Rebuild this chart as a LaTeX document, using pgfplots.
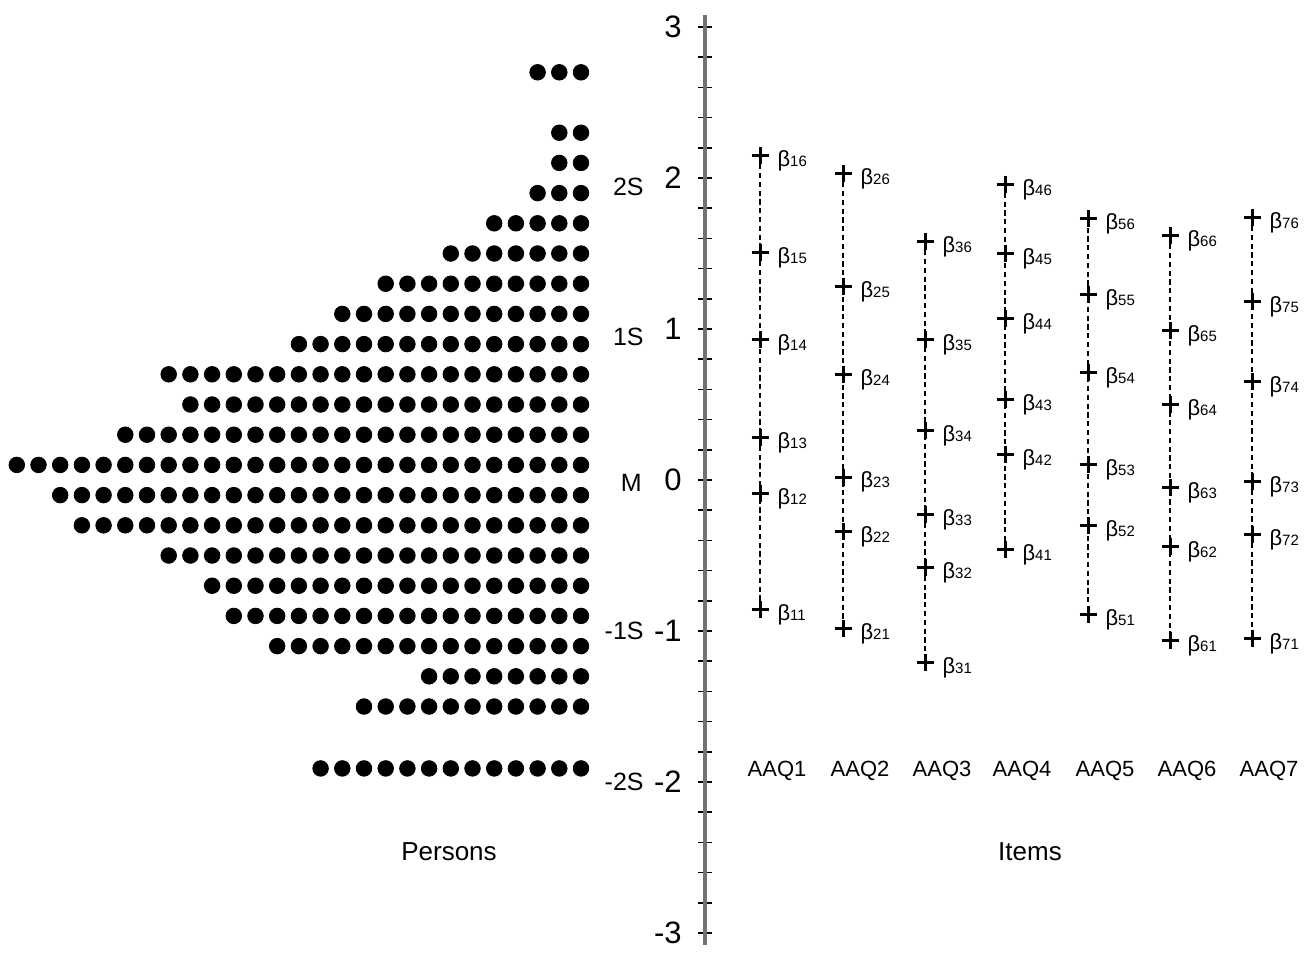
\documentclass[border=0pt]{standalone}
\usepackage{fontspec}
\setmainfont{Liberation Sans}
\usepackage{pgfplots}
\pgfplotsset{compat=1.18}
\begin{document}
\begin{tikzpicture}
\pgfplotsset{
  itemstyle/.style={black, line width=0.55pt, dash pattern=on 2.6pt off 1.8pt,
    mark=+, mark size=4.25pt, mark options={solid, line width=1.5pt},
    point meta=explicit symbolic,
    nodes near coords={β{\fontsize{7.5}{8}\selectfont\pgfplotspointmeta}},
    every node near coord/.style={anchor=base west, inner sep=0pt, xshift=8pt, yshift=-5.5pt,
      font=\fontsize{11}{11}\selectfont, text=black}},
}
\begin{axis}[
  x=0.5pt, y=75.5pt,
  xmin=-705, xmax=606, ymin=-3.08, ymax=3.08,
  axis x line=none, axis y line=center,
  y axis line style={-, draw=black!55, line width=2pt},
  ytick={-3,-2,-1,0,1,2,3},
  yticklabels={-3,-2,-1,0,1,2,3},
  minor y tick num=4,
  tick align=center,
  major tick length=7pt, minor tick length=7pt,
  tick style={black, line width=0.8pt},
  yticklabel style={font=\fontsize{15.5}{15.5}\selectfont, anchor=east, inner sep=0pt, xshift=-8pt},
  clip=false,
]
% persons: (column index from the ruler, logit)
\addplot[only marks, mark=*, mark size=3.9pt, black, x filter/.expression={-124-21.7*(x-1)}] coordinates {
(1,2.7) (2,2.7) (3,2.7)
(1,2.3) (2,2.3)
(1,2.1) (2,2.1)
(1,1.9) (2,1.9) (3,1.9)
(1,1.7) (2,1.7) (3,1.7) (4,1.7) (5,1.7)
(1,1.5) (2,1.5) (3,1.5) (4,1.5) (5,1.5) (6,1.5) (7,1.5)
(1,1.3) (2,1.3) (3,1.3) (4,1.3) (5,1.3) (6,1.3) (7,1.3) (8,1.3) (9,1.3) (10,1.3)
(1,1.1) (2,1.1) (3,1.1) (4,1.1) (5,1.1) (6,1.1) (7,1.1) (8,1.1) (9,1.1) (10,1.1) (11,1.1) (12,1.1)
(1,0.9) (2,0.9) (3,0.9) (4,0.9) (5,0.9) (6,0.9) (7,0.9) (8,0.9) (9,0.9) (10,0.9) (11,0.9) (12,0.9) (13,0.9) (14,0.9)
(1,0.7) (2,0.7) (3,0.7) (4,0.7) (5,0.7) (6,0.7) (7,0.7) (8,0.7) (9,0.7) (10,0.7) (11,0.7) (12,0.7) (13,0.7) (14,0.7) (15,0.7) (16,0.7) (17,0.7) (18,0.7) (19,0.7) (20,0.7)
(1,0.5) (2,0.5) (3,0.5) (4,0.5) (5,0.5) (6,0.5) (7,0.5) (8,0.5) (9,0.5) (10,0.5) (11,0.5) (12,0.5) (13,0.5) (14,0.5) (15,0.5) (16,0.5) (17,0.5) (18,0.5) (19,0.5)
(1,0.3) (2,0.3) (3,0.3) (4,0.3) (5,0.3) (6,0.3) (7,0.3) (8,0.3) (9,0.3) (10,0.3) (11,0.3) (12,0.3) (13,0.3) (14,0.3) (15,0.3) (16,0.3) (17,0.3) (18,0.3) (19,0.3) (20,0.3) (21,0.3) (22,0.3)
(1,0.1) (2,0.1) (3,0.1) (4,0.1) (5,0.1) (6,0.1) (7,0.1) (8,0.1) (9,0.1) (10,0.1) (11,0.1) (12,0.1) (13,0.1) (14,0.1) (15,0.1) (16,0.1) (17,0.1) (18,0.1) (19,0.1) (20,0.1) (21,0.1) (22,0.1) (23,0.1) (24,0.1) (25,0.1) (26,0.1) (27,0.1)
(1,-0.1) (2,-0.1) (3,-0.1) (4,-0.1) (5,-0.1) (6,-0.1) (7,-0.1) (8,-0.1) (9,-0.1) (10,-0.1) (11,-0.1) (12,-0.1) (13,-0.1) (14,-0.1) (15,-0.1) (16,-0.1) (17,-0.1) (18,-0.1) (19,-0.1) (20,-0.1) (21,-0.1) (22,-0.1) (23,-0.1) (24,-0.1) (25,-0.1)
(1,-0.3) (2,-0.3) (3,-0.3) (4,-0.3) (5,-0.3) (6,-0.3) (7,-0.3) (8,-0.3) (9,-0.3) (10,-0.3) (11,-0.3) (12,-0.3) (13,-0.3) (14,-0.3) (15,-0.3) (16,-0.3) (17,-0.3) (18,-0.3) (19,-0.3) (20,-0.3) (21,-0.3) (22,-0.3) (23,-0.3) (24,-0.3)
(1,-0.5) (2,-0.5) (3,-0.5) (4,-0.5) (5,-0.5) (6,-0.5) (7,-0.5) (8,-0.5) (9,-0.5) (10,-0.5) (11,-0.5) (12,-0.5) (13,-0.5) (14,-0.5) (15,-0.5) (16,-0.5) (17,-0.5) (18,-0.5) (19,-0.5) (20,-0.5)
(1,-0.7) (2,-0.7) (3,-0.7) (4,-0.7) (5,-0.7) (6,-0.7) (7,-0.7) (8,-0.7) (9,-0.7) (10,-0.7) (11,-0.7) (12,-0.7) (13,-0.7) (14,-0.7) (15,-0.7) (16,-0.7) (17,-0.7) (18,-0.7)
(1,-0.9) (2,-0.9) (3,-0.9) (4,-0.9) (5,-0.9) (6,-0.9) (7,-0.9) (8,-0.9) (9,-0.9) (10,-0.9) (11,-0.9) (12,-0.9) (13,-0.9) (14,-0.9) (15,-0.9) (16,-0.9) (17,-0.9)
(1,-1.1) (2,-1.1) (3,-1.1) (4,-1.1) (5,-1.1) (6,-1.1) (7,-1.1) (8,-1.1) (9,-1.1) (10,-1.1) (11,-1.1) (12,-1.1) (13,-1.1) (14,-1.1) (15,-1.1)
(1,-1.3) (2,-1.3) (3,-1.3) (4,-1.3) (5,-1.3) (6,-1.3) (7,-1.3) (8,-1.3)
(1,-1.5) (2,-1.5) (3,-1.5) (4,-1.5) (5,-1.5) (6,-1.5) (7,-1.5) (8,-1.5) (9,-1.5) (10,-1.5) (11,-1.5)
(1,-1.91) (2,-1.91) (3,-1.91) (4,-1.91) (5,-1.91) (6,-1.91) (7,-1.91) (8,-1.91) (9,-1.91) (10,-1.91) (11,-1.91) (12,-1.91) (13,-1.91)
};
% items: thresholds
\addplot[itemstyle] coordinates {(55,2.15)[16] (55,1.51)[15] (55,0.93)[14] (55,0.28)[13] (55,-0.09)[12] (55,-0.86)[11]};
\addplot[itemstyle] coordinates {(138,2.03)[26] (138,1.28)[25] (138,0.70)[24] (138,0.02)[23] (138,-0.34)[22] (138,-0.98)[21]};
\addplot[itemstyle] coordinates {(220,1.58)[36] (220,0.93)[35] (220,0.33)[34] (220,-0.23)[33] (220,-0.58)[32] (220,-1.21)[31]};
\addplot[itemstyle] coordinates {(300,1.96)[46] (300,1.50)[45] (300,1.07)[44] (300,0.53)[43] (300,0.17)[42] (300,-0.46)[41]};
\addplot[itemstyle] coordinates {(383,1.73)[56] (383,1.23)[55] (383,0.71)[54] (383,0.10)[53] (383,-0.30)[52] (383,-0.89)[51]};
\addplot[itemstyle] coordinates {(465,1.62)[66] (465,0.99)[65] (465,0.50)[64] (465,-0.05)[63] (465,-0.44)[62] (465,-1.06)[61]};
\addplot[itemstyle] coordinates {(547,1.74)[76] (547,1.18)[75] (547,0.65)[74] (547,-0.01)[73] (547,-0.36)[72] (547,-1.05)[71]};
% texts
\node[font=\fontsize{12.5}{13}\selectfont, anchor=east, inner sep=0pt] at (axis cs:-61,1.94) {2S};
\node[font=\fontsize{12.5}{13}\selectfont, anchor=east, inner sep=0pt] at (axis cs:-61,0.95) {1S};
\node[font=\fontsize{12.5}{13}\selectfont, anchor=east, inner sep=0pt] at (axis cs:-63,-0.02) {M};
\node[font=\fontsize{12.5}{13}\selectfont, anchor=east, inner sep=0pt] at (axis cs:-61,-1.0) {-1S};
\node[font=\fontsize{12.5}{13}\selectfont, anchor=east, inner sep=0pt] at (axis cs:-61,-2.0) {-2S};
\node[font=\fontsize{11}{11}\selectfont] at (axis cs:72,-1.927) {AAQ1};
\node[font=\fontsize{11}{11}\selectfont] at (axis cs:155,-1.927) {AAQ2};
\node[font=\fontsize{11}{11}\selectfont] at (axis cs:237,-1.927) {AAQ3};
\node[font=\fontsize{11}{11}\selectfont] at (axis cs:317,-1.927) {AAQ4};
\node[font=\fontsize{11}{11}\selectfont] at (axis cs:400,-1.927) {AAQ5};
\node[font=\fontsize{11}{11}\selectfont] at (axis cs:482,-1.927) {AAQ6};
\node[font=\fontsize{11}{11}\selectfont] at (axis cs:564,-1.927) {AAQ7};
\node[font=\fontsize{13}{13}\selectfont] at (axis cs:-256,-2.464) {Persons};
\node[font=\fontsize{13}{13}\selectfont] at (axis cs:325,-2.464) {Items};
\coordinate (bl) at (axis cs:-705,-3.132);
\coordinate (tr) at (axis cs:606,3.179);
\end{axis}
\pgfresetboundingbox
\path[use as bounding box] (bl) rectangle (tr);
\end{tikzpicture}
\end{document}
